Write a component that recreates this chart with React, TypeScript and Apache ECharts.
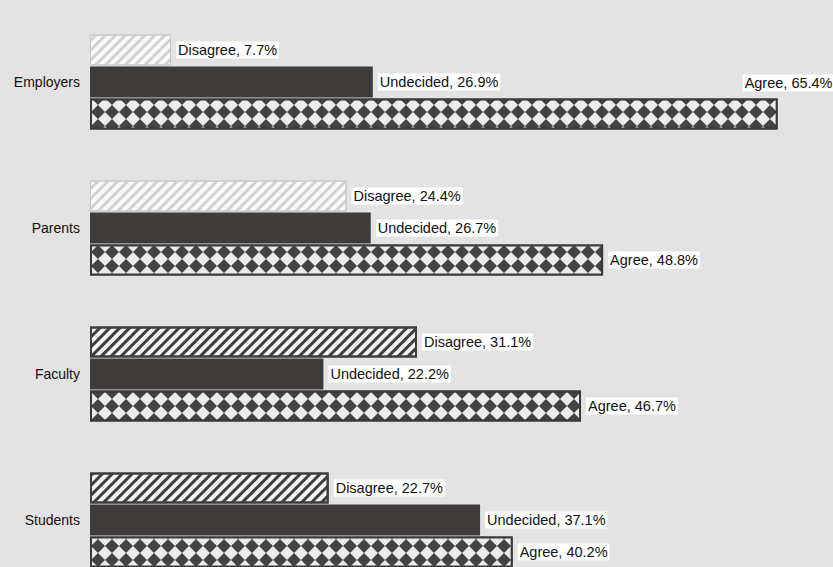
import React, { useEffect, useRef } from "react";
import * as echarts from "echarts";

const categories = ["Students", "Faculty", "Parents", "Employers"];
const disagree = [22.7, 31.1, 24.4, 7.7];
const undecided = [37.1, 22.2, 26.7, 26.9];
const agree = [40.2, 46.7, 48.8, 65.4];

const FONT = "'Liberation Sans', Arial, sans-serif";

export default function App() {
  const ref = useRef<HTMLDivElement>(null);
  useEffect(() => {
    if (!ref.current) return;
    const chart = echarts.init(ref.current, undefined, { renderer: "svg" });
    const labelBase = {
      show: true,
      position: "right",
      distance: 5,
      fontSize: 14.5,
      fontFamily: FONT,
      color: "#111",
      backgroundColor: "#ffffff",
      padding: [1, 2],
    };
    const stripeDark = {
      symbol: "rect",
      symbolSize: 1,
      color: "#3f3d3d",
      dashArrayX: [1, 0],
      dashArrayY: [3, 3.5],
      rotation: -Math.PI / 4,
    };
    const stripeLight = { ...stripeDark, color: "#d2d2d2" };
    chart.setOption({
      animation: false,
      backgroundColor: "#e3e3e3",
      grid: { left: 90, top: 9, width: 736, height: 584 },
      xAxis: { type: "value", min: 0, max: 70, show: false },
      yAxis: {
        type: "category",
        data: categories,
        axisLine: { show: false },
        axisTick: { show: false },
        axisLabel: { fontSize: 14, fontFamily: FONT, color: "#111", margin: 10 },
      },
      series: [
        {
          name: "Disagree",
          type: "bar",
          barWidth: 31,
          barGap: "3%",
          data: disagree.map((v, i) => ({
            value: v,
            itemStyle:
              i >= 2
                ? { color: "#fafafa", borderColor: "#c8c8c8", borderWidth: 1, decal: stripeLight }
                : { color: "#f4f4f4", borderColor: "#3f3d3d", borderWidth: 2, decal: stripeDark },
          })),
          label: { ...labelBase, formatter: (p: any) => `Disagree, ${p.value}%` },
        },
        {
          name: "Undecided",
          type: "bar",
          barWidth: 31,
          barGap: "3%",
          itemStyle: { color: "#3e3b3b" },
          data: undecided,
          label: { ...labelBase, formatter: (p: any) => `Undecided, ${p.value}%` },
        },
        {
          name: "Agree",
          type: "bar",
          barWidth: 31,
          barGap: "3%",
          itemStyle: {
            color: "#444242",
            borderColor: "#3a3838",
            borderWidth: 2,
            decal: {
              symbol: "diamond",
              symbolSize: 1,
              color: "#ececec",
              dashArrayX: [14, 0],
              dashArrayY: [14, 0],
            },
          },
          data: agree.map((v, i) =>
            i === 3
              ? { value: v, label: { offset: [-40, -31] } }
              : { value: v }
          ),
          label: { ...labelBase, formatter: (p: any) => `Agree, ${p.value}%` },
        },
      ],
    });
    return () => chart.dispose();
  }, []);
  return (
    <div style={{ position: "absolute", left: 0, top: 0, width: 833, height: 567, overflow: "hidden" }}>
      <div ref={ref} style={{ width: 833, height: 600 }} />
    </div>
  );
}
